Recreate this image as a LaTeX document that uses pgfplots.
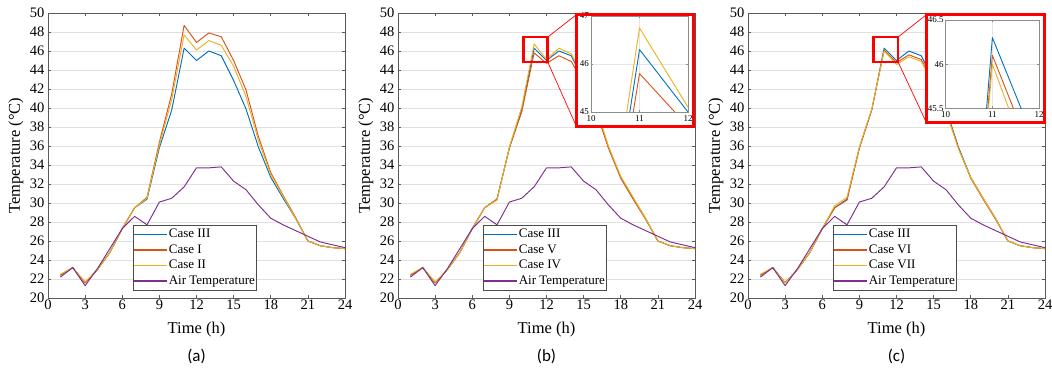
\documentclass[border=0pt]{standalone}
\usepackage{fontspec}
\setmainfont{Liberation Serif}
\newfontfamily\cali{Carlito}
\usepackage{pgfplots}
\pgfplotsset{compat=1.18}
\usepackage{pgfplotstable}

\definecolor{mblue}{rgb}{0,0.447,0.741}
\definecolor{mred}{rgb}{0.85,0.325,0.098}
\definecolor{myel}{rgb}{0.929,0.694,0.125}
\definecolor{mpur}{rgb}{0.494,0.184,0.556}

\pgfplotstableread{
h  air  c3    c1    c2    c5    c4    c6    c7
1  22.2 22.4  22.4  22.5  22.4  22.5  22.4  22.5
2  23.2 23.2  23.2  23.2  23.2  23.2  23.2  23.2
3  21.3 21.6  21.6  21.7  21.6  21.7  21.6  21.6
4  23.1 23.0  23.0  23.0  23.0  23.0  23.0  23.0
5  25.2 24.8  24.8  24.8  24.8  24.8  24.8  24.8
6  27.3 27.3  27.3  27.3  27.3  27.3  27.3  27.3
7  28.6 29.5  29.5  29.5  29.5  29.5  29.5  29.7
8  27.7 30.4  30.6  30.5  30.4  30.3  30.3  30.6
9  30.1 35.8  36.4  36.1  35.8  35.9  35.8  35.9
10 30.5 39.8  41.5  40.9  39.6  40.1  39.8  39.9
11 31.7 46.3  48.7  47.7  45.8  46.75 46.1  46.0
12 33.7 45.0  46.9  46.1  44.7  45.1  44.77 44.57
13 33.7 46.0  47.9  47.1  45.5  46.3  45.6  45.4
14 33.8 45.5  47.5  46.6  44.9  45.7  45.1  44.9
15 32.3 42.9  45.0  44.4  42.6  43.2  42.7  42.5
16 31.4 39.9  41.9  41.2  39.7  40.1  39.8  39.6
17 29.8 35.9  37.0  36.6  35.8  36.0  35.8  35.7
18 28.4 32.7  33.2  33.0  32.6  32.8  32.6  32.7
19 27.7 30.5  30.8  30.7  30.4  30.6  30.4  30.5
20 27.1 28.4  28.5  28.4  28.3  28.4  28.3  28.4
21 26.5 26.0  26.0  26.0  26.0  26.0  26.0  26.0
22 25.9 25.5  25.5  25.5  25.5  25.5  25.5  25.5
23 25.6 25.3  25.3  25.3  25.3  25.3  25.3  25.3
24 25.3 25.2  25.2  25.2  25.2  25.2  25.2  25.2
}\data

\pgfplotsset{
  mainax/.style={
    scale only axis, width=297pt, height=285pt,
    xmin=0, xmax=24, ymin=20, ymax=50,
    xtick={0,3,...,24}, ytick={20,22,...,50},
    tick pos=both, tick align=inside, major tick length=3pt,
    every tick/.style={black!65, line width=0.6pt},
    axis line style={black!65, line width=0.8pt},
    ymajorgrids, major grid style={black!12, line width=0.7pt},
    ticklabel style={font=\fontsize{14.5}{14.5}\selectfont, /pgf/number format/assume math mode=true},
    xticklabel style={inner sep=1.5pt},
    xlabel={Time (h)}, ylabel={Temperature (°C)},
    every axis x label/.style={at={(axis description cs:0.5,-0.084)}, anchor=north, inner sep=0pt,
      font=\fontsize{16.5}{16.5}\selectfont},
    every axis y label/.style={at={(axis description cs:-0.108,0.5)}, rotate=90, anchor=center,
      font=\fontsize{16.5}{16.5}\selectfont},
    legend style={at={(0.286,0.028)}, anchor=south west, font=\fontsize{13}{13}\selectfont,
      draw=none, fill=white, inner xsep=0pt, inner ysep=1pt,
      nodes={inner sep=1.5pt, text height=9.5pt, text depth=3pt}, row sep=0pt},
    legend cell align=left,
    legend image code/.code={\draw[#1,line width=1.2pt] (0pt,0pt) -- (33pt,0pt);},
    every axis plot/.append style={line width=0.95pt, line join=round, mark=none},
  },
  insetax/.style={
    scale only axis, xmin=10, xmax=12, xtick={10,11,12},
    axis background/.style={fill=white},
    xmajorgrids, ymajorgrids, major grid style={black!10, line width=0.5pt},
    tick pos=both, tick align=inside, major tick length=2pt,
    every tick/.style={black!45, line width=0.5pt},
    axis line style={black!45, line width=0.6pt},
    ticklabel style={font=\fontsize{9}{9}\selectfont, /pgf/number format/assume math mode=true, inner sep=2pt},
    xticklabel style={inner sep=3.5pt},
    every axis plot/.append style={line width=0.9pt, line join=round, mark=none},
  },
}

\begin{document}
\begin{tikzpicture}
\useasboundingbox (0pt,0pt) rectangle (1052pt,367pt);

% ---------------- (a)
\begin{axis}[mainax, at={(48pt,69pt)}, legend style={name=legA},
  extra description/.code={\node[font=\cali\fontsize{17}{17}\selectfont] at (0.5,-0.2035) {(a)};}]
\addplot[mblue] table[x=h,y=c3] {\data};
\addplot[mred]  table[x=h,y=c1] {\data};
\addplot[myel]  table[x=h,y=c2] {\data};
\addplot[mpur]  table[x=h,y=air] {\data};
\legend{Case III, Case I, Case II, Air Temperature}
\end{axis}
\draw[black!70, line width=0.7pt] (legA.south west) rectangle (legA.north east);

% ---------------- (b)
\begin{axis}[mainax, at={(398pt,69pt)}, legend style={name=legB},
  extra description/.code={\node[font=\cali\fontsize{17}{17}\selectfont] at (0.5,-0.2035) {(b)};}]
\addplot[mblue] table[x=h,y=c3] {\data};
\addplot[mred]  table[x=h,y=c5] {\data};
\addplot[myel]  table[x=h,y=c4] {\data};
\addplot[mpur]  table[x=h,y=air] {\data};
\legend{Case III, Case V, Case IV, Air Temperature}
\draw[red, line width=2.5pt] (axis cs:10.13,44.84) rectangle (axis cs:12.1,47.47);
\coordinate (bT) at (axis cs:12.1,47.47);
\coordinate (bB) at (axis cs:12.1,44.84);
\end{axis}
\draw[black!70, line width=0.7pt] (legB.south west) rectangle (legB.north east);
\draw[red, line width=0.7pt] (bT) -- (576.4pt,352.3pt);
\draw[red, line width=0.7pt] (bB) -- (576.4pt,240.6pt);
\fill[white] (576.4pt,240.6pt) rectangle (693.6pt,352.3pt);
\begin{axis}[insetax, at={(591pt,255pt)}, width=97pt, height=96pt,
  ymin=45, ymax=47, ytick={45,46,47}]
\addplot[mblue] table[x=h,y=c3] {\data};
\addplot[mred]  table[x=h,y=c5] {\data};
\addplot[myel]  table[x=h,y=c4] {\data};
\end{axis}
\draw[red, line width=2.7pt] (576.4pt,240.6pt) rectangle (693.6pt,352.3pt);

% ---------------- (c)
\begin{axis}[mainax, at={(748pt,69pt)}, legend style={name=legC},
  extra description/.code={\node[font=\cali\fontsize{17}{17}\selectfont] at (0.5,-0.2035) {(c)};}]
\addplot[mblue] table[x=h,y=c3] {\data};
\addplot[mred]  table[x=h,y=c6] {\data};
\addplot[myel]  table[x=h,y=c7] {\data};
\addplot[mpur]  table[x=h,y=air] {\data};
\legend{Case III, Case VI, Case VII, Air Temperature}
\draw[red, line width=2.5pt] (axis cs:10.13,44.84) rectangle (axis cs:12.13,47.47);
\coordinate (cT) at (axis cs:12.13,47.47);
\coordinate (cB) at (axis cs:12.13,44.84);
\end{axis}
\draw[black!70, line width=0.7pt] (legC.south west) rectangle (legC.north east);
\draw[red, line width=0.7pt] (cT) -- (926.4pt,352.3pt);
\draw[red, line width=0.7pt] (cB) -- (926.4pt,244.4pt);
\fill[white] (926.4pt,244.4pt) rectangle (1044.4pt,352.3pt);
\begin{axis}[insetax, at={(945.7pt,258.7pt)}, width=93.3pt, height=88.3pt,
  ymin=45.5, ymax=46.5, ytick={45.5,46,46.5}]
\addplot[mblue] table[x=h,y=c3] {\data};
\addplot[mred]  table[x=h,y=c6] {\data};
\addplot[myel]  table[x=h,y=c7] {\data};
\end{axis}
\draw[red, line width=2.7pt] (926.4pt,244.4pt) rectangle (1044.4pt,352.3pt);
\end{tikzpicture}
\end{document}
